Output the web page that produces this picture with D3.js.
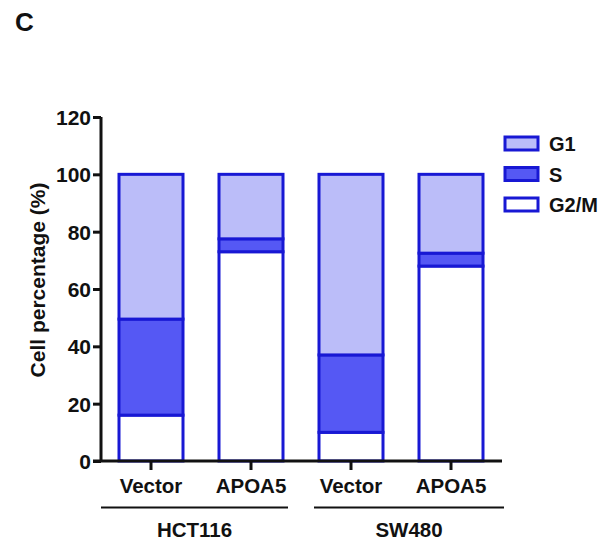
<!DOCTYPE html>
<html><head><meta charset="utf-8">
<script src="https://cdn.jsdelivr.net/npm/d3@7"></script>
<style>body{margin:0;background:#fff}svg{display:block}text{font-family:Arial,"Liberation Sans",sans-serif;font-weight:bold;fill:#111}</style>
</head><body>
<script>
const categories = ["Vector","APOA5","Vector","APOA5"];
const groups = [{name:"HCT116", from:0, to:1},{name:"SW480", from:2, to:3}];
const phases = ["G2/M","S","G1"];
const g2m = [16, 73, 10, 68];
const sPhase = [33.5, 4.5, 27, 4.5];
const g1 = [50.5, 22.5, 63, 27.5];
const yTicks = [0,20,40,60,80,100,120];
const legendOrder = ["G1","S","G2/M"];

const W=612,H=544;
const svg=d3.select("body").append("svg").attr("width",W).attr("height",H);
const colors={"G1":"#bbbdf9","S":"#5558f4","G2/M":"#ffffff"};
const stroke="#1818d4";
const FONT="Arial,'Liberation Sans',sans-serif";
const y=d3.scaleLinear().domain([0,120]).range([461,117]);
const x=d3.scaleBand().domain(d3.range(categories.length)).range([101,501]).paddingInner(0.33).paddingOuter(0.165);

const data=categories.map((c,i)=>({i, "G2/M":g2m[i], "S":sPhase[i], "G1":g1[i]}));
const stack=d3.stack().keys(phases)(data);

svg.append("text").attr("x",15).attr("y",31).style("font-size","26px").text("C");

const gBars=svg.append("g");
stack.forEach(layer=>{
  gBars.selectAll(null).data(layer).enter().append("rect")
    .attr("x",d=>x(d.data.i)+1.5).attr("width",x.bandwidth()-3)
    .attr("y",d=>y(d[1])).attr("height",d=>y(d[0])-y(d[1]))
    .attr("fill",colors[layer.key]).attr("stroke",stroke).attr("stroke-width",3);
});

// y axis
const ya=svg.append("g").attr("transform","translate(101,0)").call(d3.axisLeft(y).tickValues(yTicks).tickSize(8).tickPadding(2));
ya.select(".domain").attr("stroke","#111").attr("stroke-width",3).attr("d","M0,"+y(120)+"V"+y(0));
ya.selectAll(".tick line").attr("stroke","#111").attr("stroke-width",3);
ya.selectAll(".tick text").style("font-size","21px").style("font-family",FONT).style("font-weight","bold").attr("fill","#111").attr("dy","0.36em");

// x axis
const xa=svg.append("g").attr("transform","translate(0,"+y(0)+")").call(d3.axisBottom(x).tickFormat(i=>categories[i]).tickSize(9).tickPadding(8));
xa.select(".domain").attr("stroke","#111").attr("stroke-width",3).attr("d","M93,0H502");
xa.selectAll(".tick line").attr("stroke","#111").attr("stroke-width",3);
xa.selectAll(".tick text").style("font-size","20.5px").style("font-family",FONT).style("font-weight","bold").attr("fill","#111");

// groups
const r0=x.range()[0], r1=x.range()[1]+1;
const mid=(x(1)+x.bandwidth()+x(2))/2;
groups.forEach((g,gi)=>{
  const x0 = gi===0 ? r0 : mid+13;
  const x1 = gi===0 ? mid-13 : r1+2;
  svg.append("line").attr("x1",x0).attr("x2",x1).attr("y1",507.5).attr("y2",507.5).attr("stroke","#111").attr("stroke-width",2);
  svg.append("text").attr("x",(x0+x1)/2).attr("y",537).attr("text-anchor","middle").style("font-size","20.5px").text(g.name);
});

// y title
svg.append("text").attr("transform","translate(45,280) rotate(-90)").attr("text-anchor","middle").style("font-size","21px").text("Cell percentage (%)");

// legend
legendOrder.forEach((k,j)=>{
  const yy=137+j*30.5;
  svg.append("rect").attr("x",505).attr("y",yy).attr("width",33).attr("height",13).attr("fill",colors[k]).attr("stroke",stroke).attr("stroke-width",3);
  svg.append("text").attr("x",549).attr("y",yy+14).style("font-size","20px").text(k);
});
</script>
</body></html>
